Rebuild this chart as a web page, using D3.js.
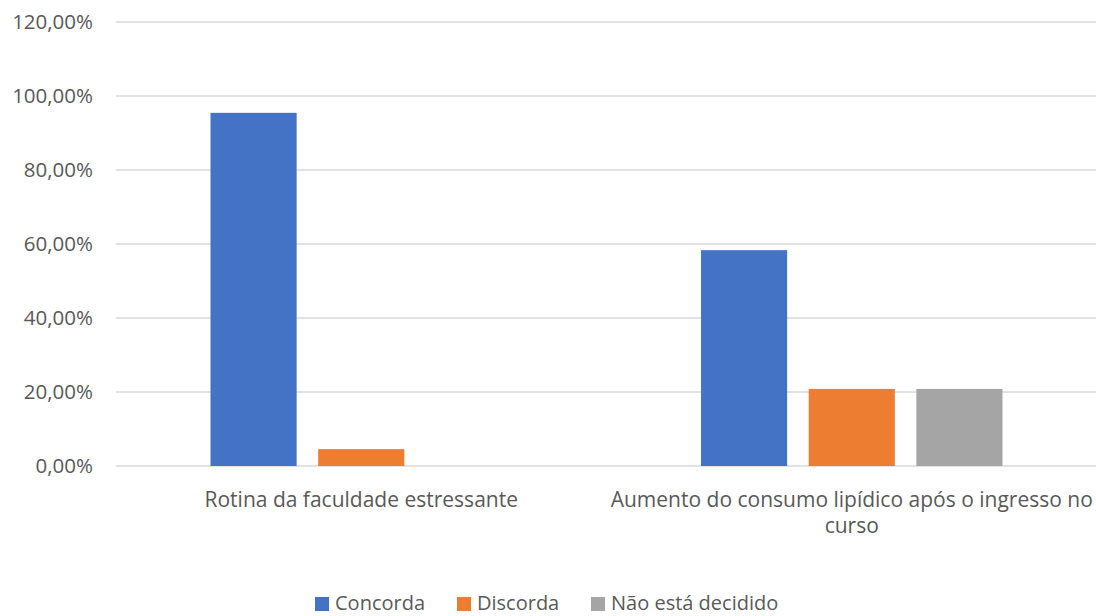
<!DOCTYPE html>
<html>
<head>
<meta charset="utf-8">
<script src="https://cdn.jsdelivr.net/npm/d3@7"></script>
<style>
  html, body { margin: 0; padding: 0; background: #fff; }
  svg { display: block; }
  text { font-family: "Open Sans", sans-serif; fill: #595959; }
</style>
</head>
<body>
<svg id="chart" width="1096" height="616"></svg>
<script>
const categories = [
  ["Rotina da faculdade estressante"],
  ["Aumento do consumo lipídico após o ingresso no", "curso"]
];
const categoryKeys = ["Rotina da faculdade estressante", "Aumento do consumo lipídico após o ingresso no curso"];
const series = ["Concorda", "Discorda", "Não está decidido"];
const concorda = [95.45, 58.33];
const discorda = [4.55, 20.83];
const naoDecidido = [0, 20.83];
const seriesValues = [concorda, discorda, naoDecidido];
const colors = ["#4472C4", "#ED7D31", "#A5A5A5"];
const yTicks = [0, 20, 40, 60, 80, 100, 120];

const svg = d3.select("#chart");
const m = { left: 116, right: 1097, top: 22, bottom: 466 };

const x0 = d3.scaleBand().domain(categoryKeys).range([m.left, m.right]).paddingInner(0).paddingOuter(0);
const groupPad = 94.5;
const x1 = d3.scaleBand().domain(series)
  .range([groupPad, x0.bandwidth() - groupPad]).paddingInner(0.2).paddingOuter(0);
const y = d3.scaleLinear().domain([0, 120]).range([m.bottom, m.top]);

// gridlines
svg.append("g")
  .selectAll("line").data(yTicks).join("line")
  .attr("x1", m.left).attr("x2", m.right)
  .attr("y1", d => y(d)).attr("y2", d => y(d))
  .attr("stroke", "#D9D9D9").attr("stroke-width", 1.3);

// y axis labels
const yAxis = d3.axisLeft(y).tickValues(yTicks).tickSize(0).tickPadding(0)
  .tickFormat(d => d3.format(".2f")(d).replace(".", ",") + "%");
const ya = svg.append("g").attr("transform", `translate(93,0)`).call(yAxis);
ya.select(".domain").remove();
ya.selectAll("text").attr("font-size", 20.5).attr("fill", "#595959").attr("font-family", "Open Sans, sans-serif");

// bars
const rows = [];
categoryKeys.forEach((c, ci) => series.forEach((s, si) => {
  rows.push({ c, s, si, v: seriesValues[si][ci] });
}));
svg.append("g").selectAll("rect").data(rows.filter(d => d.v > 0)).join("rect")
  .attr("x", d => x0(d.c) + x1(d.s))
  .attr("width", x1.bandwidth())
  .attr("y", d => y(d.v))
  .attr("height", d => y(0) - y(d.v))
  .attr("fill", d => colors[d.si]);

// x labels
const xl = svg.append("g");
categoryKeys.forEach((c, ci) => {
  categories[ci].forEach((line, li) => {
    xl.append("text")
      .attr("x", x0(c) + x0.bandwidth() / 2)
      .attr("y", 507 + li * 26)
      .attr("text-anchor", "middle")
      .attr("font-size", 21)
      .text(line);
  });
});

// legend
const legendX = [315, 457, 591];
const lg = svg.append("g");
series.forEach((s, i) => {
  lg.append("rect").attr("x", legendX[i]).attr("y", 597).attr("width", 14).attr("height", 14).attr("fill", colors[i]);
  lg.append("text").attr("x", legendX[i] + 20).attr("y", 610).attr("font-size", 20).text(s);
});
</script>
</body>
</html>
